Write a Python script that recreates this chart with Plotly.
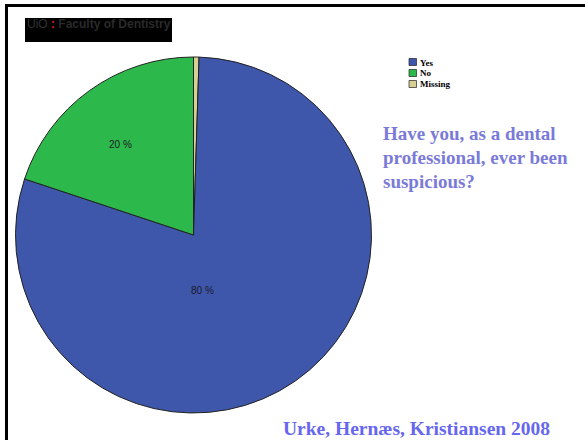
import plotly.graph_objects as go

categories = ["Missing", "Yes", "No"]
values = [0.5, 79.6, 19.9]
colors = ["#d8cf95", "#3f57ab", "#2db84b"]
legend_labels = ["Yes", "No", "Missing"]
legend_colors = ["#3f57ab", "#2db84b", "#d8cf95"]

W, H = 585, 440
def px(x): return x / W
def py(y): return 1 - y / H

fig = go.Figure(go.Pie(
    labels=categories, values=values, sort=False, direction="clockwise",
    rotation=0, marker=dict(colors=colors, line=dict(color="#222222", width=1)),
    textinfo="none", hoverinfo="label+percent", showlegend=False,
    domain=dict(x=[px(15.5), px(371.5)], y=[py(413), py(57)]),
))

shapes = []
annotations = []
# slide border
shapes.append(dict(type="line", xref="paper", yref="paper", x0=px(6.5), x1=px(6.5), y0=0, y1=py(5), line=dict(color="black", width=3)))
shapes.append(dict(type="line", xref="paper", yref="paper", x0=px(5), x1=1, y0=py(5.5), y1=py(5.5), line=dict(color="black", width=3)))
# header box
shapes.append(dict(type="rect", xref="paper", yref="paper", x0=px(25), x1=px(172), y0=py(42), y1=py(18), fillcolor="black", line=dict(width=0)))
annotations.append(dict(xref="paper", yref="paper", x=px(25), y=py(24), xanchor="left", yanchor="middle", showarrow=False,
    text="<span style='color:#333333'>UiO </span><span style='color:#e0202a'><b>:</b></span><span style='color:#2a2a2a'><b> Faculty of Dentistry</b></span>",
    font=dict(family="Liberation Sans, Arial", size=12)))

# slice labels
slice_label_text = ["20 %", "80 %"]
slice_label_pos = [(107, 137), (202, 290)]
for t, (x, y) in zip(slice_label_text, slice_label_pos):
    annotations.append(dict(xref="paper", yref="paper", x=px(x), y=py(y), showarrow=False, text=t,
        font=dict(family="Liberation Sans, Arial", size=10, color="#1a1a2a")))

# legend
for i, (lab, col) in enumerate(zip(legend_labels, legend_colors)):
    y = 62 + i * 11
    shapes.append(dict(type="rect", xref="paper", yref="paper", x0=px(409), x1=px(416.5), y0=py(y + 3.5), y1=py(y - 3.5),
        fillcolor=col, line=dict(color="#222222", width=0.7)))
    annotations.append(dict(xref="paper", yref="paper", x=px(418), y=py(y + 0.5), xanchor="left", yanchor="middle", showarrow=False,
        text="<b>" + lab + "</b>", font=dict(family="Liberation Serif, Times New Roman", size=9, color="black")))

# title text
title_lines = ["Have you, as a dental", "professional, ever been", "suspicious?"]
for i, line in enumerate(title_lines):
    annotations.append(dict(xref="paper", yref="paper", x=px(381), y=py(133 + i * 24.5), xanchor="left", yanchor="middle", showarrow=False,
        text="<b>" + line + "</b>", font=dict(family="Liberation Serif, Times New Roman", size=19, color="#7a7ad8")))

annotations.append(dict(xref="paper", yref="paper", x=px(281), y=py(428), xanchor="left", yanchor="middle", showarrow=False,
    text="<b>Urke, Hernæs, Kristiansen 2008</b>", font=dict(family="Liberation Serif, Times New Roman", size=19.5, color="#6666ee")))

fig.update_layout(width=W, height=H, margin=dict(l=0, r=0, t=0, b=0), paper_bgcolor="white", plot_bgcolor="white",
    shapes=shapes, annotations=annotations)

fig.write_html("out.html")
